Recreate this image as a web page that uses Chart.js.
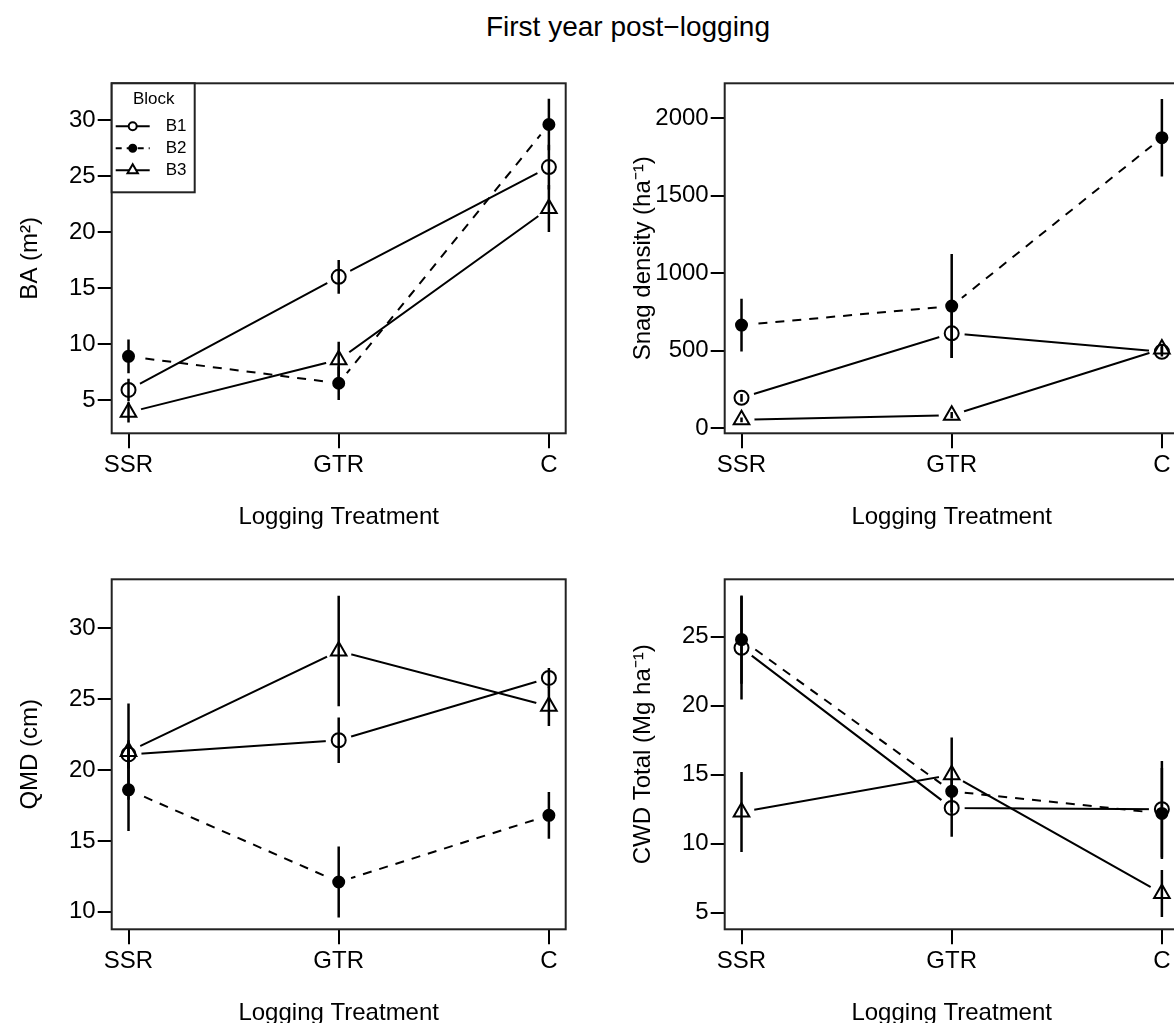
<!DOCTYPE html>
<html>
<head>
<meta charset="utf-8">
<script src="https://cdn.jsdelivr.net/npm/chart.js@4.4.0/dist/chart.umd.min.js"></script>
<style>
  html, body { margin: 0; padding: 0; background: #fff; }
  #page { position: relative; width: 1174px; height: 1023px; overflow: hidden; font-family: "Liberation Sans", Arial, sans-serif; }
  #title { position: absolute; left: 0; top: 10px; width: 1256px; text-align: center; font-size: 28px; line-height: 34px; color: #000; }
  canvas { position: absolute; }
</style>
</head>
<body>
<div id="page">
  <div id="title">First year post−logging</div>
  <canvas id="ba" width="613" height="496" style="left:0px;top:50px"></canvas>
  <canvas id="snag" width="613" height="496" style="left:613px;top:50px"></canvas>
  <canvas id="qmd" width="613" height="496" style="left:0px;top:546px"></canvas>
  <canvas id="cwd" width="613" height="496" style="left:613px;top:546px"></canvas>
</div>
<script>
const treatments = ["SSR", "GTR", "C"];
const blocks = ["B1", "B2", "B3"];

// basal area (m2), means and error half-widths per block
const baB1 = [5.9, 16.0, 25.8];
const baB2 = [8.9, 6.5, 29.6];
const baB3 = [3.9, 8.6, 22.1];
const baErrB1 = [1.0, 1.5, 2.0];
const baErrB2 = [1.5, 1.5, 2.3];
const baErrB3 = [0.9, 1.6, 2.1];
const baTicks = [5, 10, 15, 20, 25, 30];

// snag density (ha-1)
const snagB1 = [197, 613, 494];
const snagB2 = [666, 789, 1875];
const snagB3 = [55, 85, 512];
const snagErrB1 = [25, 160, 30];
const snagErrB2 = [170, 335, 250];
const snagErrB3 = [15, 20, 30];
const snagTicks = [0, 500, 1000, 1500, 2000];

// quadratic mean diameter (cm)
const qmdB1 = [21.1, 22.1, 26.5];
const qmdB2 = [18.6, 12.1, 16.8];
const qmdB3 = [21.3, 28.4, 24.5];
const qmdErrB1 = [1.0, 1.6, 0.7];
const qmdErrB2 = [2.9, 2.5, 1.65];
const qmdErrB3 = [3.4, 3.9, 1.4];
const qmdTicks = [10, 15, 20, 25, 30];

// coarse woody debris total (Mg ha-1)
const cwdB1 = [24.2, 12.6, 12.5];
const cwdB2 = [24.8, 13.8, 12.2];
const cwdB3 = [12.3, 15.0, 6.4];
const cwdErrB1 = [3.75, 2.1, 3.5];
const cwdErrB2 = [3.2, 0.5, 3.3];
const cwdErrB3 = [2.9, 2.7, 1.7];
const cwdTicks = [5, 10, 15, 20, 25];

Chart.defaults.font.family = '"Liberation Sans", Arial, sans-serif';
Chart.defaults.font.size = 24;
Chart.defaults.color = "#000";

const blockStyle = [
  { dash: [], point: "circle", radius: 7, fill: "rgba(0,0,0,0)" },
  { dash: [9, 8], point: "circle", radius: 5.5, fill: "#000" },
  { dash: [], point: "triangle", radius: 9, fill: "rgba(0,0,0,0)" }
];

// lines stop short of their own points, like R's type = "b"
const gapPlugin = {
  id: "gaps",
  beforeDatasetDraw(chart, args) {
    const ds = chart.data.datasets[args.index];
    if (!ds.gap) return;
    const ctx = chart.ctx;
    ctx.save();
    ctx.beginPath();
    ctx.rect(0, 0, chart.width, chart.height);
    args.meta.data.forEach(p => {
      ctx.moveTo(p.x + ds.gap, p.y);
      ctx.arc(p.x, p.y, ds.gap, 0, Math.PI * 2);
    });
    ctx.clip("evenodd");
  },
  afterDatasetDraw(chart, args) {
    if (chart.data.datasets[args.index].gap) chart.ctx.restore();
  }
};

const framePlugin = {
  id: "frame",
  afterDatasetsDraw(chart) {
    const { ctx, chartArea: a } = chart;
    ctx.save();
    ctx.strokeStyle = "#222";
    ctx.lineWidth = 2;
    ctx.strokeRect(a.left, a.top, a.right - a.left, a.bottom - a.top);
    ctx.restore();
  }
};

const legendPlugin = {
  id: "blockLegend",
  afterDraw(chart) {
    const { ctx, chartArea: a } = chart;
    const x0 = a.left, y0 = a.top;
    ctx.save();
    ctx.fillStyle = "#fff";
    ctx.fillRect(x0, y0, 83, 109);
    ctx.strokeStyle = "#222";
    ctx.lineWidth = 2;
    ctx.strokeRect(x0, y0, 83, 109);
    ctx.fillStyle = "#000";
    ctx.font = '17px "Liberation Sans", Arial, sans-serif';
    ctx.textAlign = "center";
    ctx.textBaseline = "middle";
    ctx.fillText("Block", x0 + 42, y0 + 16);
    ctx.textAlign = "left";
    blocks.forEach((b, i) => {
      const st = blockStyle[i];
      const y = y0 + 43 + i * 22;
      ctx.strokeStyle = "#000";
      ctx.lineWidth = 2;
      ctx.setLineDash(st.dash.length ? [6, 5] : []);
      ctx.beginPath();
      ctx.moveTo(x0 + 4, y);
      ctx.lineTo(x0 + 38, y);
      ctx.stroke();
      ctx.setLineDash([]);
      ctx.beginPath();
      if (st.point === "triangle") {
        const r = 6;
        ctx.moveTo(x0 + 21, y - r);
        ctx.lineTo(x0 + 21 + r * 0.866, y + r / 2);
        ctx.lineTo(x0 + 21 - r * 0.866, y + r / 2);
        ctx.closePath();
        ctx.fillStyle = "#fff";
      } else {
        ctx.arc(x0 + 21, y, st.fill === "#000" ? 3.5 : 4, 0, Math.PI * 2);
        ctx.fillStyle = st.fill === "#000" ? "#000" : "#fff";
      }
      ctx.fill();
      ctx.stroke();
      ctx.fillStyle = "#000";
      ctx.fillText(b, x0 + 54, y);
    });
    ctx.restore();
  }
};

function seriesData(vals) {
  return vals.map((v, i) => ({ x: i + 1, y: v }));
}

function makePanel(id, means, errs, ticks, yMin, yMax, yTitle, legend) {
  const datasets = [];
  means.forEach((m, b) => {
    const st = blockStyle[b];
    datasets.push({
      label: blocks[b],
      data: seriesData(m),
      showLine: false,
      pointStyle: st.point,
      pointRadius: st.radius,
      pointBorderWidth: 2,
      pointBorderColor: "#000",
      pointBackgroundColor: st.fill,
      clip: false
    });
  });
  means.forEach((m, b) => {
    datasets.push({
      label: blocks[b] + " line",
      data: seriesData(m),
      borderColor: "#000",
      borderWidth: 2,
      borderDash: blockStyle[b].dash,
      pointRadius: 0,
      tension: 0,
      gap: 13
    });
  });
  means.forEach((m, b) => {
    m.forEach((v, i) => {
      datasets.push({
        label: blocks[b] + " " + treatments[i] + " error",
        data: [{ x: i + 1, y: v - errs[b][i] }, { x: i + 1, y: v + errs[b][i] }],
        borderColor: "#000",
        borderWidth: 2.5,
        pointRadius: 0
      });
    });
  });

  const plugins = [gapPlugin, framePlugin];
  if (legend) plugins.push(legendPlugin);

  new Chart(document.getElementById(id), {
    type: "line",
    data: { datasets },
    plugins,
    options: {
      responsive: false,
      animation: false,
      events: [],
      devicePixelRatio: 1,
      layout: { padding: { top: 33.3, right: 47.3, left: 0, bottom: 0 } },
      plugins: { legend: { display: false }, tooltip: { enabled: false } },
      scales: {
        x: {
          type: "linear",
          min: 0.92,
          max: 3.08,
          afterBuildTicks: s => { s.ticks = treatments.map((t, i) => ({ value: i + 1 })); },
          afterFit: s => { s.height = 112.7; },
          ticks: { callback: (v, i) => treatments[i], padding: 3, maxRotation: 0, autoSkip: false, color: "#000" },
          grid: { drawOnChartArea: false, drawTicks: true, tickLength: 15, color: "#000", lineWidth: 2 },
          border: { display: false },
          title: { display: true, text: "Logging Treatment", color: "#000", padding: { top: 0, bottom: 14 } }
        },
        y: {
          type: "linear",
          min: yMin,
          max: yMax,
          afterBuildTicks: s => { s.ticks = ticks.map(v => ({ value: v })); },
          afterFit: s => { s.width = 111.7; },
          ticks: { callback: v => String(v), padding: 2, color: "#000" },
          grid: { drawOnChartArea: false, drawTicks: true, tickLength: 14, color: "#000", lineWidth: 2 },
          border: { display: false },
          title: { display: true, text: yTitle, color: "#000", padding: { top: 16, bottom: 0 } }
        }
      }
    }
  });
}

makePanel("ba", [baB1, baB2, baB3], [baErrB1, baErrB2, baErrB3], baTicks, 2.03, 33.28, "BA (m²)", true);
makePanel("snag", [snagB1, snagB2, snagB3], [snagErrB1, snagErrB2, snagErrB3], snagTicks, -32, 2226, "Snag density (ha⁻¹)", false);
makePanel("qmd", [qmdB1, qmdB2, qmdB3], [qmdErrB1, qmdErrB2, qmdErrB3], qmdTicks, 8.76, 33.46, "QMD (cm)", false);
makePanel("cwd", [cwdB1, cwdB2, cwdB3], [cwdErrB1, cwdErrB2, cwdErrB3], cwdTicks, 3.8, 29.17, "CWD Total (Mg ha⁻¹)", false);
</script>
</body>
</html>
